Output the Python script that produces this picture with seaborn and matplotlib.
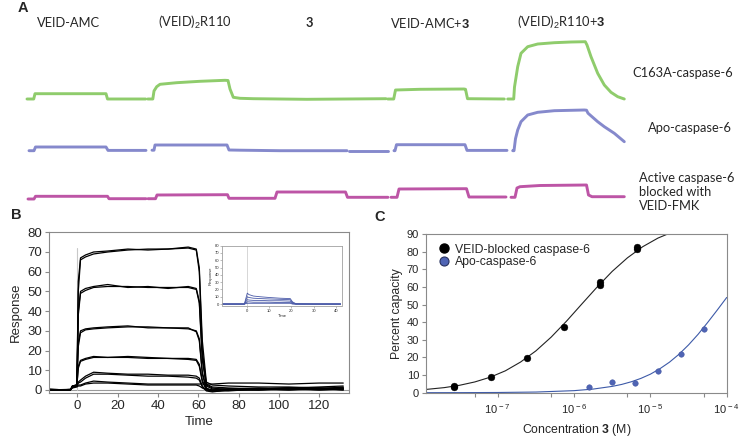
import numpy as np
import pandas as pd
import matplotlib
matplotlib.use("Agg")
import matplotlib.pyplot as plt
from matplotlib.lines import Line2D
import seaborn as sns

# ---------------- Panel A data (time in run units, response height) -------------
seg_labels = ["VEID-AMC", r"(VEID)$_{2}$R110", "3", r"VEID-AMC+$\mathbf{3}$", r"(VEID)$_{2}$R110+$\mathbf{3}$"]
seg_label_x = [68.7, 195, 309, 429.7, 561]
trace_names = ["C163A-caspase-6", "Apo-caspase-6", "Active caspase-6\nblocked with\nVEID-FMK"]

green_t = [[27, 33.7, 35, 106, 107.5, 145.7],
           [147.7, 152.8, 154, 156.7, 160, 176.7, 200, 225, 228, 230, 233.3, 240, 253.3, 280, 306.7, 386],
           [387.7, 393.7, 395.5, 420, 464, 465.5, 467.5, 504.3],
           [507.7, 513.7, 514.5, 517.7, 521, 527.7, 537.7, 554.3, 571, 585.3, 587, 591, 597.7, 604.3, 611, 617.7, 624.3]]
green_h = [[0, 0, 5.3, 5.3, 0, 0],
           [0, 0, 8, 12.3, 14.7, 16.3, 17.7, 18.7, 18.5, 10, 1.7, 0.7, 0.3, 0, -0.3, 0.3],
           [0, 0, 9, 9.7, 10, 9.7, 0.3, 0],
           [0, 0, 12, 32.3, 45.7, 52.3, 55, 56.3, 57, 57.3, 54, 42.3, 25.7, 14, 6.7, 2.3, 0]]

blue_t = [[29, 34, 35.5, 106, 108, 146],
          [152, 154, 155, 227, 229, 240, 280, 300, 347],
          [349, 388],
          [394, 395, 396.5, 465, 467, 507],
          [512.7, 514, 515.5, 517.7, 521, 527.7, 537.7, 554.3, 584.3, 586.5, 588, 597.7, 604.3, 614.3, 624.3]]
blue_h = [[0, 0, 3.7, 3.7, 0.3, 0.3],
          [0.5, 0.5, 5.7, 5.7, 0.7, 0.5, 0, 0, 0],
          [0, 0],
          [0, 0, 6, 6, 0.3, 0.3],
          [0, 0, 12, 20.7, 29, 35.7, 38.4, 40, 40.7, 40.5, 37.5, 29, 24, 17.4, 9]]

mag_t = [[28, 34, 35.5, 107.5, 109, 146],
         [148, 155.5, 157, 227.5, 229, 275, 277, 345.5, 347.5, 388],
         [391, 397, 399, 466.5, 469, 506],
         [511, 515, 517, 520, 540, 586.5, 588.5, 592, 624.3]]
mag_h = [[0, 0, 2.7, 2.7, 0.3, 0.3],
         [0.3, 0.3, 4, 4.3, 0.7, 0.7, 7, 7, 1.7, 1.7],
         [1.7, 1.7, 10, 10.3, 2, 2],
         [1.7, 1.7, 11, 12.3, 13.5, 14, 4, 2.3, 2.3]]

# ---------------- Panel B data -------------
tB = [-14, -3.5, -2.5, -0.3, 0.4, 1.5, 4, 8, 15, 25, 35, 45, 55, 59, 60.5, 62, 64, 67, 75, 90, 105, 120, 132]
r1a = [0.3, 0, 2, 2.5, 50, 66, 67.5, 69, 70, 71, 71.5, 71.5, 72, 71, 60, 20, 3, 1.5, 1, 0.5, 1, 0.5, 0.5]
r1b = [0, 0.3, 1.5, 2, 55, 67, 68.5, 70, 70.5, 71.5, 71, 71.5, 72.5, 71.5, 62, 25, 4, 2.5, 2, 1.5, 1.5, 1, 1]
r2a = [0.3, 0, 2, 2.5, 38, 49, 50.5, 52, 52.5, 52.5, 52, 52, 52, 51, 44, 15, 2, 0.5, 0.5, 0.5, 0, 0.5, 0]
r2b = [0, 0.2, 1.5, 2, 40, 50, 51.5, 52.5, 53.5, 52, 52.5, 51.5, 52.5, 51.5, 45, 17, 2.5, 1, 0, 0, 0.5, 0, 0.5]
r3a = [0.3, 0, 2, 2.5, 22, 29, 30.5, 31, 31.5, 32, 32, 31.5, 31, 30, 26, 9, 1, -0.5, 0, 0.5, 0.5, 1, 0.5]
r3b = [0, 0.2, 1.5, 2, 24, 30, 31, 31.5, 32, 32.5, 31.5, 31.5, 31.5, 29.5, 25, 8, 0.5, 0, 0.5, 0, 1, 0.5, 1]
r4a = [0.2, 0, 2, 2.5, 11, 14.5, 15.5, 16.5, 16.5, 17, 16.5, 16, 16, 15.5, 13, 5, 0, -0.5, 0, 0.5, 0, 1, 0]
r4b = [0, 0.2, 1.5, 2, 12, 15, 16, 17, 16.5, 16.5, 16, 16, 15.5, 15, 12, 4, 0.5, 0, 0.5, 1, 0.5, 0.5, 1.5]
r5a = [0.2, 0, 1.5, 2, 4, 5, 7, 9, 8.5, 8, 8, 7.5, 7.5, 7, 6, 2, -0.5, -1, 0, 0, 0.5, 0.5, 1]
r5b = [0, 0.2, 1.5, 2, 3.5, 4, 6, 8, 8, 7.5, 7, 7, 6.5, 6, 5, 1.5, 0, -0.5, -0.5, 0.5, 1, 0, 0.5]
r6a = [0.2, 0, 1.5, 2, 2.5, 2.5, 3.5, 4.5, 4, 3.5, 3, 3, 3, 3, 3, 3, 3, 3, 3.5, 3.5, 3, 3.5, 3.5]
r6b = [0, 0.2, 1, 1.5, 2, 2, 3, 3.5, 3.5, 3, 2.5, 2.5, 2.5, 2.5, 2, 1, 0, -0.5, 0, 0.5, 1, 1.5, 2]
b_traces = [r1a, r1b, r2a, r2b, r3a, r3b, r4a, r4b, r5a, r5b, r6a, r6b]
b_xticks = [0, 20, 40, 60, 80, 100, 120]
b_yticks = [0, 10, 20, 30, 40, 50, 60, 70, 80]

# inset
tI = [-11, -1, 0.3, 1, 3, 6, 10, 15, 19.5, 20.5, 22, 30, 42]
i1 = [0, 0, 15, 13, 11, 10, 9, 8, 7.5, 3, 0.5, 0, 0]
i2 = [0, 0, 10, 9, 8, 7.5, 7, 6.5, 6, 2, 0, 0, 0]
i3 = [0, 0, 6, 5.5, 5, 5, 4.5, 4.5, 4, 1, 0, 0, 0]
i4 = [0, 0, 3, 3, 2.5, 2.5, 2.5, 2, 2, 0.5, 0, 0, 0]
i5 = [0, 0, 1, 1, 1, 1, 1, 1, 1, 0, 0, 0, 0]
i_traces = [i1, i2, i3, i4, i5]

# ---------------- Panel C data -------------
conc_black = [2.7e-8, 2.7e-8, 8.1e-8, 2.45e-7, 7.3e-7, 2.2e-6, 2.2e-6, 6.6e-6, 6.6e-6]
pct_black = [3.0, 4.0, 9.0, 19.5, 37.0, 60.8, 62.5, 81.3, 82.5]
conc_blue = [1.55e-6, 3.1e-6, 6.2e-6, 1.25e-5, 2.5e-5, 5.0e-5]
pct_blue = [3.4, 5.8, 5.3, 12.2, 21.9, 36.0]
fit_black_logc = [-7.94, -7.7, -7.5, -7.3, -7.1, -6.9, -6.7, -6.5, -6.3, -6.1, -5.9, -5.7, -5.5, -5.3, -5.1, -4.9, -4.7]
fit_black_pct = [1.85, 2.88, 4.2, 6.1, 8.76, 12.4, 17.4, 23.7, 31.5, 40.5, 50.2, 59.8, 68.8, 76.5, 82.8, 87.7, 91.3]
fit_blue_logc = [-7.94, -7.5, -7.0, -6.5, -6.0, -5.75, -5.5, -5.375, -5.25, -5.125, -5.0, -4.875, -4.75, -4.625, -4.5, -4.375, -4.25, -4.125, -4.0]
fit_blue_pct = [0.014, 0.037, 0.12, 0.37, 1.16, 2.05, 3.58, 4.7, 6.2, 8.1, 10.5, 13.6, 17.3, 21.8, 27.1, 33.1, 39.8, 46.8, 54.0]
c_xticks = [1e-7, 1e-6, 1e-5, 1e-4]
c_xticklabels = [r"10$^{\,-7}$", r"10$^{\,-6}$", r"10$^{\,-5}$", r"10$^{\,-4}$"]
c_minor = [5e-8, 5e-7, 5e-6, 5e-5]
c_yticks = [0, 10, 20, 30, 40, 50, 60, 70, 80, 90]
legend_labels = ["VEID-blocked caspase-6", "Apo-caspase-6"]

# ---------------- styling -------------
sns.set_style("white")
plt.rcParams.update({
    "font.family": ["Liberation Sans", "DejaVu Sans"],
    "mathtext.fontset": "custom",
    "mathtext.rm": "Liberation Sans",
    "mathtext.it": "Liberation Sans:italic",
    "mathtext.bf": "Liberation Sans:bold",
})
GREEN = "#8fcc6c"
LAV = "#8589cc"
MAG = "#bd55a6"
FRAME = "#8a8a8a"
AFONT = ["Lato", "DejaVu Sans"]
AFS = 9.3
W, H = 742, 440
fig = plt.figure(figsize=(W / 100, H / 100), dpi=100)

def rect(l, t, r, b):
    return [l / W, 1 - b / H, (r - l) / W, (b - t) / H]

def pieces_frame(tp, hp):
    rows = []
    for k, (ts, hs) in enumerate(zip(tp, hp)):
        for t, h in zip(ts, hs):
            rows.append((k, t, h))
    return pd.DataFrame(rows, columns=["piece", "t", "h"])

# ---------------- Panel A -------------
axA = fig.add_axes(rect(0, 0, W, 215))
axA.set_xlim(0, W)
axA.set_ylim(215, 0)
axA.axis("off")
baselines = [99, 150.7, 199]
for tp, hp, col, base in [(green_t, green_h, GREEN, baselines[0]),
                          (blue_t, blue_h, LAV, baselines[1]),
                          (mag_t, mag_h, MAG, baselines[2])]:
    df = pieces_frame(tp, hp)
    df["y"] = base - df["h"]
    sns.lineplot(data=df, x="t", y="y", units="piece", estimator=None, sort=False,
                 color=col, lw=2.1, ax=axA, legend=False)
axA.set_xlabel("")
axA.set_ylabel("")
for lab, x in zip(seg_labels, seg_label_x):
    axA.text(x, 22.7, lab, ha="center", va="center", fontsize=AFS,
             family=AFONT, fontweight="bold" if lab == "3" else "normal")
axA.text(632.7, 73.3, trace_names[0], ha="left", va="center", fontsize=AFS, family=AFONT)
axA.text(732, 128.3, trace_names[1], ha="right", va="center", fontsize=AFS, family=AFONT)
axA.text(639.3, 192.3, trace_names[2], ha="left", va="center", fontsize=AFS, linespacing=1.2, family=AFONT)

# ---------------- Panel B -------------
axB = fig.add_axes(rect(49.3, 231.7, 349.3, 393.3))
rows = []
for k, tr in enumerate(b_traces):
    for t, v in zip(tB, tr):
        rows.append((k, t, v))
dfB = pd.DataFrame(rows, columns=["trace", "Time", "Response"])
axB.axhline(0, color="#9a9a9a", lw=0.8, zorder=0)
axB.axvline(0, ymin=0.02, ymax=0.9, color="#c8c8c8", lw=0.8, zorder=0)
sns.lineplot(data=dfB, x="Time", y="Response", units="trace", estimator=None, sort=False,
             color="black", lw=0.9, ax=axB, legend=False)
axB.set_xlim(-14, 135)
axB.set_ylim(-1.7, 80.3)
axB.set_xticks(b_xticks)
axB.set_yticks(b_yticks)
axB.tick_params(axis="both", labelsize=9.5, length=3, width=0.8, color=FRAME, direction="out", pad=2,
                bottom=True, left=True)
axB.set_xlabel("Time", fontsize=9.5, labelpad=3)
axB.set_ylabel("Response", fontsize=9.5, labelpad=4)
for s in axB.spines.values():
    s.set_color(FRAME)
    s.set_linewidth(0.8)

# inset
axI = fig.add_axes(rect(222, 245.7, 341.7, 305.5))
rows = []
for k, tr in enumerate(i_traces):
    for t, v in zip(tI, tr):
        rows.append((k, t, v))
dfI = pd.DataFrame(rows, columns=["trace", "Time", "Response"])
axI.axvline(0, color="#d0d0d0", lw=0.6, zorder=0)
sns.lineplot(data=dfI, x="Time", y="Response", units="trace", estimator=None, sort=False,
             color="#4a5aa8", lw=0.6, ax=axI, legend=False)
axI.set_xlim(-11, 42.5)
axI.set_ylim(-2, 80)
axI.set_xticks([0, 10, 20, 30, 40])
axI.set_yticks([0, 10, 20, 30, 40, 50, 60, 70, 80])
axI.tick_params(axis="both", labelsize=3, length=1.2, width=0.4, color=FRAME, pad=1, bottom=True, left=True)
axI.set_xlabel("Time", fontsize=3, labelpad=1)
axI.set_ylabel("Response", fontsize=3, labelpad=1)
for s in axI.spines.values():
    s.set_color("#a0a0a0")
    s.set_linewidth(0.6)

# ---------------- Panel C -------------
axC = fig.add_axes(rect(426, 234, 726.7, 392.7))
axC.set_xscale("log")
dfFB = pd.DataFrame({"c": 10.0 ** np.array(fit_black_logc), "p": fit_black_pct})
dfFU = pd.DataFrame({"c": 10.0 ** np.array(fit_blue_logc), "p": fit_blue_pct})
sns.lineplot(data=dfFU, x="c", y="p", color="#3d5aa8", lw=0.8, ax=axC, sort=False, estimator=None)
sns.lineplot(data=dfFB, x="c", y="p", color="#222222", lw=0.8, ax=axC, sort=False, estimator=None)
sns.scatterplot(x=conc_black, y=pct_black, color="black", s=24, edgecolor="black", linewidth=0.3, ax=axC, zorder=5)
sns.scatterplot(x=conc_blue, y=pct_blue, color="#4f64b4", s=16, edgecolor="#3b4f9c", linewidth=0.3, ax=axC, zorder=5)
axC.set_xlim(1.15e-8, 1e-4)
axC.set_ylim(0, 90)
axC.set_xticks(c_xticks)
axC.set_xticklabels(c_xticklabels)
axC.set_xticks(c_minor, minor=True)
axC.set_xticklabels([], minor=True)
axC.set_yticks(c_yticks)
axC.tick_params(axis="both", which="both", labelsize=8, length=3, width=0.8, color=FRAME, direction="out",
                pad=2, bottom=True, left=True)
axC.tick_params(axis="x", which="major", pad=4)
axC.set_xlabel(r"Concentration $\mathbf{3}$ (M)", fontsize=8.8, labelpad=4)
axC.set_ylabel("Percent capacity", fontsize=8.8, labelpad=3)
for s in axC.spines.values():
    s.set_color(FRAME)
    s.set_linewidth(0.8)
handles = [Line2D([], [], ls="", marker="o", ms=6.5, mfc="black", mec="black"),
           Line2D([], [], ls="", marker="o", ms=6.5, mfc="#4f64b4", mec="#26305e", mew=0.8)]
axC.legend(handles, legend_labels, loc="upper left", bbox_to_anchor=(0.01, 0.985), frameon=False,
           fontsize=8.8, handletextpad=0.3, labelspacing=0.05, handlelength=1.2, borderaxespad=0.2)

# panel letters
for lab, (x, y) in zip(["A", "B", "C"], [(22.5, 8.5), (16.7, 215), (380, 217)]):
    fig.text(x / W, 1 - y / H, lab, ha="center", va="center", fontsize=10.5, fontweight="bold")

fig.savefig("out.png", dpi=100)
